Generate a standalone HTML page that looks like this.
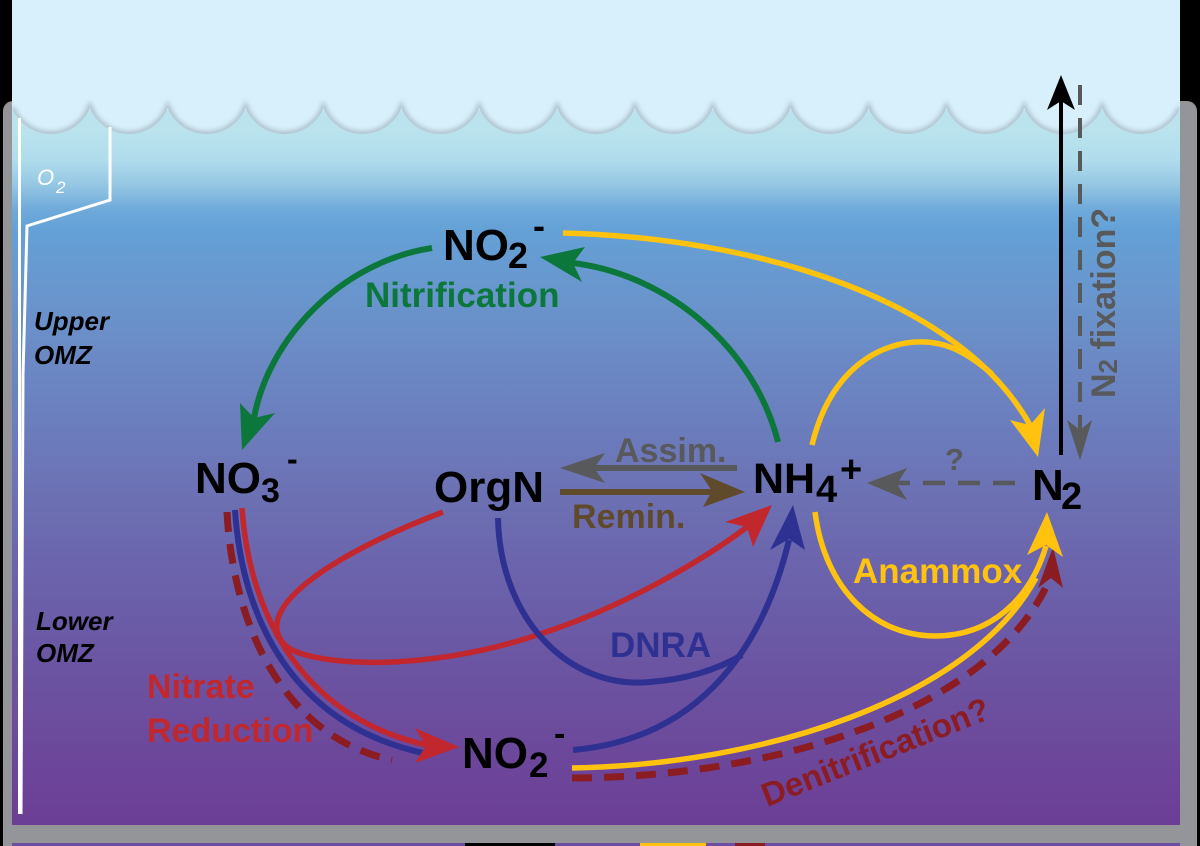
<!DOCTYPE html>
<html><head><meta charset="utf-8">
<style>
html,body{margin:0;padding:0;background:#000;width:1200px;height:846px;overflow:hidden}
svg{display:block}
text{font-family:"Liberation Sans",Arial,sans-serif;font-weight:bold}
</style></head>
<body>
<svg width="1200" height="846" viewBox="0 0 1200 846" xmlns="http://www.w3.org/2000/svg">
<defs>
<linearGradient id="water" x1="0" y1="100" x2="0" y2="825" gradientUnits="userSpaceOnUse">
<stop offset="0.041" stop-color="#bae3ed"/>
<stop offset="0.083" stop-color="#b0dcec"/>
<stop offset="0.117" stop-color="#95c7e3"/>
<stop offset="0.152" stop-color="#6ea9da"/>
<stop offset="0.179" stop-color="#64a1d6"/>
<stop offset="0.317" stop-color="#6b8fc8"/>
<stop offset="0.441" stop-color="#6b7ebe"/>
<stop offset="0.552" stop-color="#6c70b3"/>
<stop offset="0.634" stop-color="#6b65ad"/>
<stop offset="0.759" stop-color="#6b57a4"/>
<stop offset="0.897" stop-color="#6c489b"/>
<stop offset="1" stop-color="#6c3e96"/>
</linearGradient>
<clipPath id="skyclip"><path d="M12,0 L1180,0 L1180,108 A42.1,42.1 0 0 1 1102.13,108 A42.1,42.1 0 0 1 1024.27,108 A42.1,42.1 0 0 1 946.4,108 A42.1,42.1 0 0 1 868.53,108 A42.1,42.1 0 0 1 790.67,108 A42.1,42.1 0 0 1 712.8,108 A42.1,42.1 0 0 1 634.93,108 A42.1,42.1 0 0 1 557.07,108 A42.1,42.1 0 0 1 479.2,108 A42.1,42.1 0 0 1 401.33,108 A42.1,42.1 0 0 1 323.47,108 A42.1,42.1 0 0 1 245.6,108 A42.1,42.1 0 0 1 167.73,108 A42.1,42.1 0 0 1 89.87,108 A42.1,42.1 0 0 1 12,108 Z"/></clipPath>
<filter id="blur" x="-5%" y="-50%" width="110%" height="200%"><feGaussianBlur stdDeviation="2.5"/></filter>
</defs>

<!-- frame -->
<rect x="0" y="0" width="1200" height="846" fill="#000"/>
<rect x="3" y="101" width="1194" height="760" rx="10" fill="#939598"/>
<rect x="12" y="100" width="1168" height="725" fill="url(#water)"/>
<rect x="12" y="843" width="1168" height="3" fill="#6c4ea0"/>
<rect x="640" y="843" width="66" height="3" fill="#ffc20e"/>
<rect x="465" y="843" width="90" height="3" fill="#000"/>
<rect x="735" y="843" width="30" height="3" fill="#8a1c22"/>

<!-- sky -->
<rect x="12" y="0" width="1168" height="110" fill="#d8f0fb"/>
<path d="M12,0 L1180,0 L1180,108 A42.1,42.1 0 0 1 1102.13,108 A42.1,42.1 0 0 1 1024.27,108 A42.1,42.1 0 0 1 946.4,108 A42.1,42.1 0 0 1 868.53,108 A42.1,42.1 0 0 1 790.67,108 A42.1,42.1 0 0 1 712.8,108 A42.1,42.1 0 0 1 634.93,108 A42.1,42.1 0 0 1 557.07,108 A42.1,42.1 0 0 1 479.2,108 A42.1,42.1 0 0 1 401.33,108 A42.1,42.1 0 0 1 323.47,108 A42.1,42.1 0 0 1 245.6,108 A42.1,42.1 0 0 1 167.73,108 A42.1,42.1 0 0 1 89.87,108 A42.1,42.1 0 0 1 12,108 Z" fill="#d8f0fb"/>
<g clip-path="url(#skyclip)">
<path d="M1180,108 A42.1,42.1 0 0 1 1102.13,108 A42.1,42.1 0 0 1 1024.27,108 A42.1,42.1 0 0 1 946.4,108 A42.1,42.1 0 0 1 868.53,108 A42.1,42.1 0 0 1 790.67,108 A42.1,42.1 0 0 1 712.8,108 A42.1,42.1 0 0 1 634.93,108 A42.1,42.1 0 0 1 557.07,108 A42.1,42.1 0 0 1 479.2,108 A42.1,42.1 0 0 1 401.33,108 A42.1,42.1 0 0 1 323.47,108 A42.1,42.1 0 0 1 245.6,108 A42.1,42.1 0 0 1 167.73,108 A42.1,42.1 0 0 1 89.87,108 A42.1,42.1 0 0 1 12,108" fill="none" stroke="#8a9aa8" stroke-opacity="0.55" stroke-width="6" filter="url(#blur)"/>
</g>

<!-- O2 profile -->
<line x1="19.5" y1="118" x2="19.5" y2="814" stroke="#fff" stroke-width="3"/>
<polyline points="110,127 110,200 27,226 23,375 21,814" fill="none" stroke="#fff" stroke-width="3"/>
<text x="37" y="185" font-size="22" font-style="italic" fill="#fff" style="font-weight:normal">O</text>
<text x="56" y="193" font-size="17" font-style="italic" fill="#fff" style="font-weight:normal">2</text>

<text x="34" y="330" font-size="26" font-style="italic" fill="#000">Upper</text>
<text x="34" y="364" font-size="26" font-style="italic" fill="#000">OMZ</text>
<text x="36" y="630" font-size="26" font-style="italic" fill="#000">Lower</text>
<text x="36" y="662" font-size="26" font-style="italic" fill="#000">OMZ</text>

<!-- N2 fixation -->
<line x1="1061" y1="455" x2="1061" y2="100" stroke="#000" stroke-width="4"/>
<polygon points="1061,75 1047,110 1061,101 1075,110" fill="#000"/>
<line x1="1080" y1="85" x2="1080" y2="432" stroke="#58595b" stroke-width="4" stroke-dasharray="20 13"/>
<polygon points="1080,460 1067,420 1080,430 1092,420" fill="#58595b"/>
<text transform="translate(1115,398) rotate(-90)" font-size="34" fill="#58595b">N<tspan font-size="26" dy="2">2</tspan><tspan dy="-2" font-size="34"> fixation?</tspan></text>

<!-- N2 -> NH4 dashed -->
<line x1="1015" y1="483" x2="895" y2="483" stroke="#58595b" stroke-width="4.5" stroke-dasharray="22 13"/>
<polygon points="867,483 907,468 897,484 907,500" fill="#58595b"/>
<text x="945" y="470" font-size="31" fill="#58595b">?</text>

<!-- Assim / Remin -->
<line x1="737" y1="468" x2="592" y2="468" stroke="#58595b" stroke-width="6"/>
<polygon points="560,468 605,453 594,468 605,483" fill="#58595b"/>
<text x="615" y="462" font-size="34" fill="#58595b">Assim.</text>
<line x1="560" y1="492" x2="714" y2="492" stroke="#5f4b2c" stroke-width="6"/>
<polygon points="745,492 700,473 712,491 703,507" fill="#5f4b2c"/>
<text x="572" y="528" font-size="34" fill="#5f4b2c">Remin.</text>

<!-- Nitrification (green) -->
<path d="M778,442 C755,350 670,275 573,263" fill="none" stroke="#0c773b" stroke-width="6"/>
<polygon points="540,257 585,247 573,263 582,282" fill="#0c773b"/>
<path d="M432,248 C340,262 268,340 254,418" fill="none" stroke="#0c773b" stroke-width="6"/>
<polygon points="242,450 240,403 254,418 275,413" fill="#0c773b"/>
<text x="365" y="307" font-size="35" fill="#0c773b">Nitrification</text>

<!-- Anammox (yellow) -->
<path d="M563,233 C760,238 960,300 1030,425" fill="none" stroke="#ffc20e" stroke-width="5.5"/>
<path d="M812,445 C830,370 880,340 925,342 C950,343 970,355 992,374" fill="none" stroke="#ffc20e" stroke-width="5.5"/>
<polygon points="1038,457 1010,420 1030,425 1045,408" fill="#ffc20e"/>
<path d="M815,512 C825,590 875,636 935,636 C990,636 1030,600 1046,546" fill="none" stroke="#ffc20e" stroke-width="5.5"/>
<path d="M572,768 C760,765 970,700 1036,578" fill="none" stroke="#ffc20e" stroke-width="5.5"/>

<!-- Denitrification (dark red dashed) -->
<path d="M572,778 C790,777 990,705 1047,585" fill="none" stroke="#8a1c22" stroke-width="7" stroke-dasharray="20 12"/>
<polygon points="1053,547 1038,588 1051,578 1063,588" fill="#8a1c22"/>
<polygon points="1047,512 1027,555 1046,545 1063,557" fill="#ffc20e"/>
<text x="853" y="583" font-size="35" fill="#ffc20e">Anammox</text>
<text transform="translate(767,807) rotate(-21.6)" font-size="33" fill="#8a1c22">Denitrification?</text>

<!-- NO3 -> NO2 bottom -->
<path d="M227,512 C233,628 286,738 392,760" fill="none" stroke="#8a1c22" stroke-width="7" stroke-dasharray="20 12"/>
<path d="M235,510 C242,618 292,724 423,753" fill="none" stroke="#2e3192" stroke-width="6"/>
<path d="M242,508 C249,612 300,716 426,745" fill="none" stroke="#c1272d" stroke-width="5.5"/>
<polygon points="459,747 415,728 426,746 415,763" fill="#c1272d"/>

<!-- red loop OrgN -> NH4 -->
<path d="M443,512 C330,555 250,610 285,645 C305,665 420,675 540,634 C630,605 710,555 747,527" fill="none" stroke="#c1272d" stroke-width="5.5"/>
<polygon points="772,505 725,522 747,527 753,547" fill="#c1272d"/>

<!-- DNRA (blue) -->
<path d="M498,518 C500,620 570,690 650,682 C690,679 720,668 742,655" fill="none" stroke="#2e3192" stroke-width="6"/>
<path d="M573,750 C690,740 760,660 789,540" fill="none" stroke="#2e3192" stroke-width="6"/>
<polygon points="793,505 770,550 789,539 805,550" fill="#2e3192"/>
<text x="610" y="657" font-size="35" fill="#2e3192">DNRA</text>

<text x="147" y="698" font-size="34" fill="#c1272d">Nitrate</text>
<text x="147" y="742" font-size="34" fill="#c1272d">Reduction</text>

<!-- Nodes -->
<text x="443" y="260" font-size="44" fill="#000">NO</text>
<text x="508" y="268" font-size="36" fill="#000">2</text>
<text x="533" y="238" font-size="36" fill="#000">-</text>

<text x="195" y="493" font-size="44" fill="#000">NO</text>
<text x="261" y="502" font-size="34" fill="#000">3</text>
<text x="287" y="470" font-size="32" fill="#000">-</text>

<text x="434" y="502" font-size="44" fill="#000">OrgN</text>

<text x="753" y="493" font-size="43" fill="#000">NH</text>
<text x="816" y="502" font-size="38" fill="#000">4</text>
<text x="840" y="482" font-size="38" fill="#000">+</text>

<text x="1032" y="500" font-size="44" fill="#000">N</text>
<text x="1061" y="509" font-size="38" fill="#000">2</text>

<text x="462" y="768" font-size="44" fill="#000">NO</text>
<text x="529" y="777" font-size="35" fill="#000">2</text>
<text x="554" y="745" font-size="34" fill="#000">-</text>
</svg>
</body></html>
